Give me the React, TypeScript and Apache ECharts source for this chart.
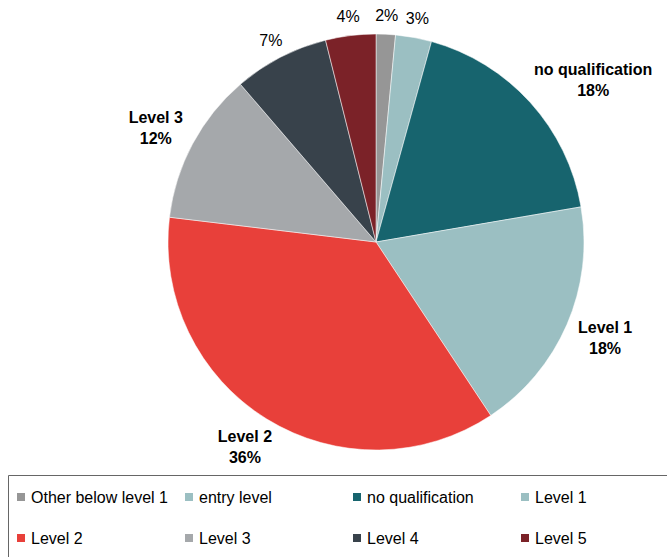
import React, { useEffect, useRef } from "react";
import * as echarts from "echarts";

const categories = [
  "Other below level 1",
  "entry level",
  "no qualification",
  "Level 1",
  "Level 2",
  "Level 3",
  "Level 4",
  "Level 5",
];
const values = [1.5, 2.8, 18.0, 18.4, 36.2, 11.8, 7.4, 3.9];
const colors = [
  "#969696",
  "#9bbfc2",
  "#17646e",
  "#9bbfc2",
  "#e8403a",
  "#a5a8ab",
  "#38424b",
  "#7b2228",
];

const FONT = "'Liberation Sans', Arial, sans-serif";
const CX = 376;
const CY = 242;
const RADIUS = 208;
const LABEL_R = 213;
const K = 1.35;

export default function App() {
  const ref = useRef<HTMLDivElement>(null);
  useEffect(() => {
    if (!ref.current) return;
    const chart = echarts.init(ref.current, null, { renderer: "svg" });
    const total = values.reduce((a, b) => a + b, 0);
    const cum: number[] = [];
    values.reduce((acc, v, i) => {
      cum[i] = acc;
      return acc + v;
    }, 0);

    const labelLayout = (params: any) => {
      const i = params.dataIndex;
      const theta = (2 * Math.PI * (cum[i] + values[i] / 2)) / total;
      const ux = Math.sin(theta);
      const uy = -Math.cos(theta);
      const hw = params.labelRect.width / 2;
      const hh = params.labelRect.height / 2;
      const ax = CX + LABEL_R * ux;
      const ay = CY + LABEL_R * uy;
      return {
        x: ax + K * hw * ux,
        y: ay + K * hh * uy,
        align: "center",
        verticalAlign: "middle",
      };
    };

    const option: any = {
      animation: false,
      backgroundColor: "#ffffff",
      graphic: [
        {
          type: "rect",
          shape: { x: 8.5, y: 475.5, width: 700, height: 100 },
          style: { fill: "none", stroke: "#666666", lineWidth: 1 },
          silent: true,
        },
      ],
      legend: categories.map((name, i) => ({
        data: [name],
        left: 15 + (i % 4) * 168,
        top: i < 4 ? 489 : 530,
        orient: "horizontal",
        icon: "rect",
        itemWidth: 10,
        itemHeight: 10,
        padding: 0,
        selectedMode: false,
        textStyle: { fontSize: 16, color: "#000000", fontFamily: FONT },
      })),
      series: [
        {
          type: "pie",
          center: [CX, CY],
          radius: [0, RADIUS],
          startAngle: 90,
          clockwise: true,
          avoidLabelOverlap: false,
          itemStyle: { borderColor: "#ffffff", borderWidth: 0.5 },
          label: {
            show: true,
            position: "outside",
            color: "#000000",
            fontFamily: FONT,
            fontSize: 16,
            lineHeight: 21,
            formatter: (p: any) =>
              p.value >= 10
                ? `${p.name}\n${Math.round(p.percent)}%`
                : `${Math.round(p.percent)}%`,
          },
          labelLine: { show: false },
          labelLayout,
          emphasis: { disabled: true },
          data: categories.map((name, i) => ({
            name,
            value: values[i],
            itemStyle: { color: colors[i] },
            label: { fontWeight: values[i] >= 10 ? "bold" : "normal" },
          })),
        },
      ],
    };
    chart.setOption(option);
    return () => chart.dispose();
  }, []);
  return (
    <div
      ref={ref}
      style={{ position: "fixed", left: 0, top: 0, width: 667, height: 557 }}
    />
  );
}
